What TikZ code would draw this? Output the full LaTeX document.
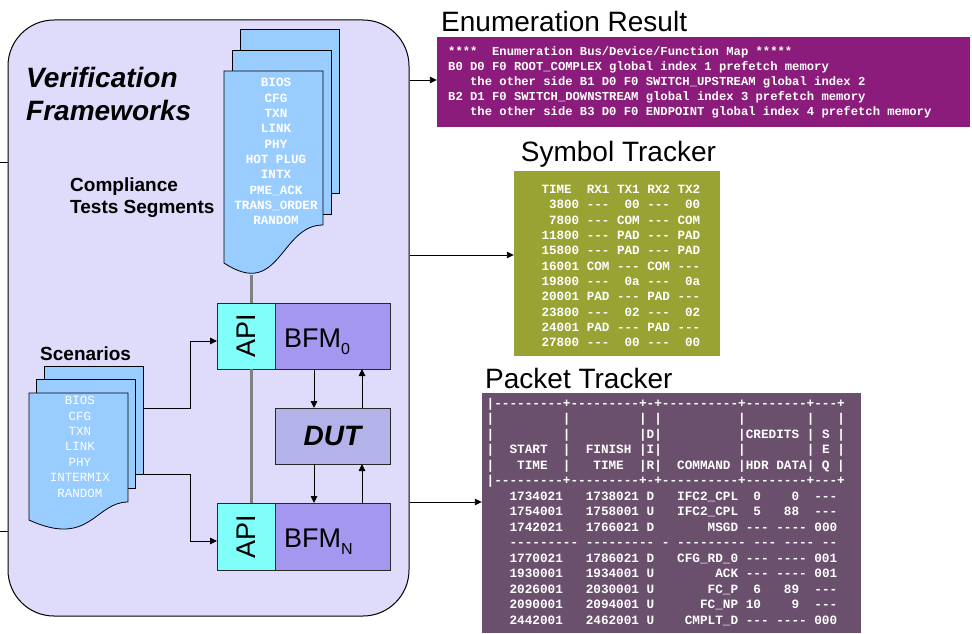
\documentclass[tikz,border=0pt]{standalone}
\usepackage{fontspec}
\setmainfont{Liberation Sans}
\setmonofont{Liberation Mono}
\usepackage{tikz}
\usetikzlibrary{arrows.meta, positioning}

\definecolor{frameLilac}{RGB}{223,219,250}
\definecolor{sheetBlue}{RGB}{153,204,255}
\definecolor{apiCyan}{RGB}{128,255,250}
\definecolor{bfmViolet}{RGB}{164,151,240}
\definecolor{dutGrey}{RGB}{179,179,234}
\definecolor{boxEdge}{RGB}{40,40,40}
\definecolor{busGrey}{RGB}{128,128,128}
\definecolor{enumPurple}{RGB}{139,28,123}
\definecolor{symOlive}{RGB}{152,163,52}
\definecolor{pktMauve}{RGB}{107,80,109}

\begin{document}
\begin{tikzpicture}[x=1pt,y=1pt,yscale=-1,xscale=1,
    link/.style={-{Triangle[length=7pt,width=6.5pt]},line width=0.9pt},
    wire/.style={line width=0.9pt},
    bus/.style={draw=busGrey,line width=3pt},
    sheet/.style={draw,fill=sheetBlue,line width=0.8pt},
    blockbox/.style={draw=boxEdge,line width=0.8pt,inner sep=0pt,outer sep=0pt},
    apibox/.style={blockbox,fill=apiCyan,minimum width=58pt},
    bfmbox/.style={blockbox,fill=bfmViolet,minimum width=115pt},
    sheettxt/.style={anchor=base,inner sep=0pt,text=white},
    logtxt/.style={anchor=base west,inner sep=0pt,text=white},
    headtxt/.style={anchor=base west,inner sep=0pt,font=\fontsize{28}{28}\selectfont},
    blocktxt/.style={inner sep=0pt,font=\fontsize{27}{27}\selectfont}]
\useasboundingbox (0,0) rectangle (972,634);

%Shape: Rounded Rect [frame]
\node[draw,fill=frameLilac,line width=1pt,rounded corners=46pt,minimum width=401pt,minimum height=596pt,inner sep=0pt] (vfw) at (208.5,318) {};
% Text Node
\node[anchor=north west,inner sep=0pt,align=left,font=\fontsize{28}{33}\selectfont\bfseries\itshape] (vfwname) at (26,67) {Verification\\Frameworks};

%Straight Lines [incoming feeds]
\coordinate (feedA) at (0,162);
\coordinate (feedB) at (0,531);
\draw[wire] (feedA) -- (vfw.west |- feedA);
\draw[wire] (feedB) -- (vfw.west |- feedB);

%Shape: Document stack [compliance]
\draw[sheet] (240,29) rectangle (339,193);
\draw[sheet] (232,50) rectangle (331,214);
\draw[sheet] (224,71) -- (323,71) -- (323,225) .. controls (280,225) and (280,300) .. (224,263) -- cycle;
\foreach \ln [count=\i from 0] in {BIOS,CFG,TXN,LINK,PHY,HOT PLUG,INTX,PME\_ACK,TRANS\_ORDER,RANDOM}
  \node[sheettxt,font=\ttfamily\bfseries\fontsize{12.6}{14}\selectfont] (cmp\i) at (276,87+15.33*\i) {\ln};
\coordinate (cmpbot) at (251,275);
% Text Node
\node[anchor=north west,inner sep=0pt,align=left,font=\fontsize{19}{22}\selectfont\bfseries] (cmpname) at (70,178) {Compliance\\Tests Segments};

%Shape: Document stack [scenarios]
\draw[sheet] (44,366) rectangle (143,474);
\draw[sheet] (36,379) rectangle (135,488);
\draw[sheet] (29,393) -- (128,393) -- (128,502) .. controls (95,502) and (90,548) .. (29,520) -- cycle;
\foreach \ln [count=\i from 0] in {BIOS,CFG,TXN,LINK,PHY,INTERMIX,RANDOM}
  \node[sheettxt,font=\ttfamily\fontsize{12.5}{14}\selectfont] (scn\i) at (80,404.6+15.45*\i) {\ln};
\coordinate (scnout0) at (143,408);
\coordinate (scnout1) at (135,474);
% Text Node
\node[anchor=base west,inner sep=0pt,font=\fontsize{19}{22}\selectfont\bfseries] (scnname) at (40,360) {Scenarios};

%Shape: Blocks [API, BFM, DUT]
\node[apibox,minimum height=66pt] (api0) at (246,336) {};
\node[bfmbox,minimum height=66pt,right=0pt of api0] (bfm0) {};
\node[blockbox,fill=dutGrey,minimum width=115pt,minimum height=56pt,font=\fontsize{28}{28}\selectfont\bfseries\itshape] (dut) at (332.5,436) {DUT};
\node[apibox,minimum height=67pt] (apiN) at (246,536.5) {};
\node[bfmbox,minimum height=67pt,right=0pt of apiN] (bfmN) {};
\node[blocktxt,rotate=90] (api0txt) at (api0) {API};
\node[blocktxt,rotate=90] (apiNtxt) at (apiN) {API};
\node[blocktxt,anchor=base west] (bfm0txt) at (284,347) {BFM{\fontsize{16}{16}\selectfont\raisebox{-7pt}{0}}};
\node[blocktxt,anchor=base west] (bfmNtxt) at (284,547.5) {BFM{\fontsize{16}{16}\selectfont\raisebox{-7pt}{N}}};

%Straight Lines [bus]
\draw[bus] (cmpbot) -- (api0.north -| cmpbot);
\draw[bus] (api0.south -| cmpbot) -- (apiN.north -| cmpbot);

%Straight Lines [BFM <-> DUT]
\draw[link] ([xshift=-18.5pt]bfm0.south) -- ([xshift=-18.5pt]dut.north);
\draw[link] ([xshift=29.5pt]dut.north) -- ([xshift=29.5pt]bfm0.south);
\draw[link] ([xshift=-18.5pt]dut.south) -- ([xshift=-18.5pt]bfmN.north);
\draw[link] ([xshift=29.5pt]bfmN.north) -- ([xshift=29.5pt]dut.south);

%Straight Lines [scenarios -> API]
\draw[link] (scnout0) -- (190,408) |- (api0.west |- 0,341);
\draw[link] (scnout1) -- (190,474) |- (apiN.west |- 0,541);

%Shape: Rectangle [enumeration]
\node[fill=enumPurple,minimum width=533pt,minimum height=90pt,inner sep=0pt] (enumbox) at (703.5,82) {};
\node[headtxt] (enumhead) at (441,31.7) {Enumeration Result};
\foreach \ln [count=\i from 0] in {
  {****~~Enumeration Bus/Device/Function Map *****},
  {B0 D0 F0 ROOT\_COMPLEX global index 1 prefetch memory},
  {~~~the other side B1 D0 F0 SWITCH\_UPSTREAM global index 2},
  {B2 D1 F0 SWITCH\_DOWNSTREAM global index 3 prefetch memory},
  {~~~the other side B3 D0 F0 ENDPOINT global index 4 prefetch memory}}
  \node[logtxt,font=\ttfamily\bfseries\fontsize{12.2}{14}\selectfont] (enum\i) at (448,55.3+15.13*\i) {\ln};

%Shape: Rectangle [symbol tracker]
\node[fill=symOlive,minimum width=206pt,minimum height=185pt,inner sep=0pt] (symbox) at (617,263.5) {};
\node[headtxt] (symhead) at (520.7,161.7) {Symbol Tracker};
\foreach \ln [count=\i from 0] in {
  TIME~~RX1~TX1~RX2~TX2,
  ~3800~---~~00~---~~00,
  ~7800~---~COM~---~COM,
  11800~---~PAD~---~PAD,
  15800~---~PAD~---~PAD,
  16001~COM~---~COM~---,
  19800~---~~0a~---~~0a,
  20001~PAD~---~PAD~---,
  23800~---~~02~---~~02,
  24001~PAD~---~PAD~---,
  27800~---~~00~---~~00}
  \node[logtxt,font=\ttfamily\bfseries\fontsize{12.6}{14}\selectfont] (sym\i) at (541.3,193.6+15.33*\i) {\ln};

%Shape: Rectangle [packet tracker]
\node[fill=pktMauve,minimum width=379pt,minimum height=240pt,inner sep=0pt] (pktbox) at (671.5,513) {};
\node[headtxt] (pkthead) at (485,388.3) {Packet Tracker};
\foreach \ln [count=\i from 0] in {
  |---------+---------+-+----------+--------+---+,
  |~~~~~~~~~|~~~~~~~~~|~|~~~~~~~~~~|~~~~~~~~|~~~|,
  |~~~~~~~~~|~~~~~~~~~|D|~~~~~~~~~~|CREDITS~|~S~|,
  |~~START~~|~~FINISH~|I|~~~~~~~~~~|~~~~~~~~|~E~|,
  |~~~TIME~~|~~~TIME~~|R|~~COMMAND~|HDR~DATA|~Q~|,
  |---------+---------+-+----------+--------+---+,
  ~~~1734021~~~1738021~D~~~IFC2\_CPL~~0~~~~0~~---,
  ~~~1754001~~~1758001~U~~~IFC2\_CPL~~5~~~88~~---,
  ~~~1742021~~~1766021~D~~~~~~~MSGD~---~----~000,
  ~~~---------~---------~-~---------~---~----~--,
  ~~~1770021~~~1786021~D~~~CFG\_RD\_0~---~----~001,
  ~~~1930001~~~1934001~U~~~~~~~~ACK~---~----~001,
  ~~~2026001~~~2030001~U~~~~~~~FC\_P~~6~~~89~~---,
  ~~~2090001~~~2094001~U~~~~~~FC\_NP~10~~~~9~~---,
  ~~~2442001~~~2462001~U~~~~CMPLT\_D~---~----~000}
  \node[logtxt,font=\ttfamily\bfseries\fontsize{12.7}{14}\selectfont] (pkt\i) at (486.5,407+15.5*\i) {\ln};

%Straight Lines [framework -> trackers]
\draw[link] (vfw.east |- 0,80) -- (enumbox.west |- 0,80);
\draw[link] (vfw.east |- 0,255) -- (symbox.west |- 0,255);
\draw[link] (vfw.east |- 0,502) -- (pktbox.west |- 0,502);

\end{tikzpicture}
\end{document}
